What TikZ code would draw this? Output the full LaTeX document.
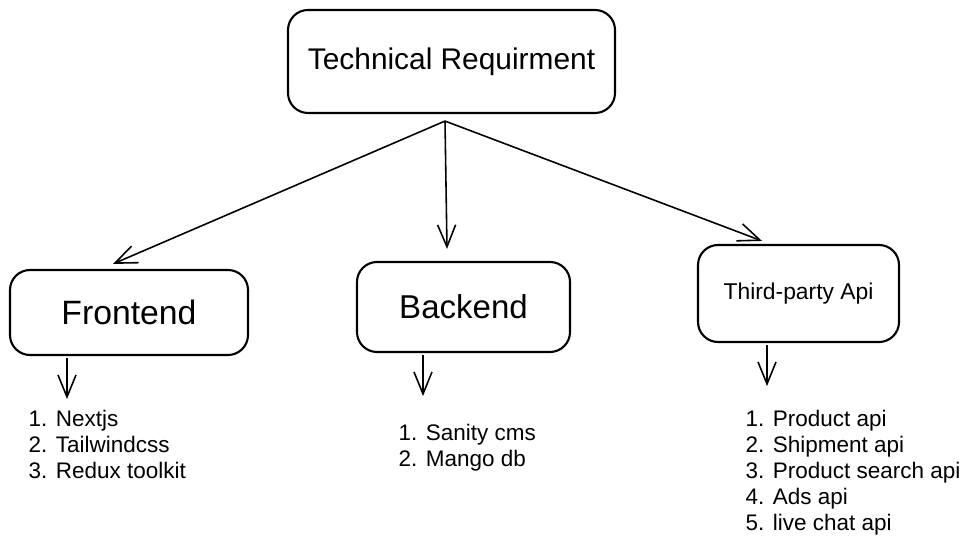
\documentclass[tikz,border=0pt]{standalone}
\usepackage{fontspec}
\setmainfont{Liberation Sans}
\usetikzlibrary{arrows.meta}
\begin{document}
\begin{tikzpicture}
    [%%%%%%%%%%%%%%%%%%%%%%%%%%%%%%
        box/.style={rectangle,draw=black,line width=0.6pt,rounded corners=0.2cm},
        arrow/.style={-{Straight Barb[length=2.2mm,width=1.8mm]},line width=0.45pt},
        list/.style={anchor=west,align=left,inner sep=0pt,font=\fontsize{6.4}{7.4}\selectfont},
    ]%%%%%%%%%%%%%%%%%%%%%%%%%%%%%%

\useasboundingbox (0,0) rectangle (9.65,5.46);

\node[box,minimum width=3.27cm,minimum height=1.03cm,font=\fontsize{8.5}{10}\selectfont] (top) at (4.515,4.845){Technical Requirment};

\node[box,minimum width=2.38cm,minimum height=0.85cm,font=\fontsize{9.6}{11}\selectfont] (front) at (1.29,2.335){Frontend};
\node[box,minimum width=2.13cm,minimum height=0.90cm,font=\fontsize{9.4}{11}\selectfont] (back) at (4.635,2.39){Backend};
\node[box,minimum width=2.01cm,minimum height=0.97cm,font=\fontsize{6.5}{8}\selectfont] (third) at (7.985,2.525){Third-party Api};

\coordinate (hub) at ([xshift=-0.065cm,yshift=-0.07cm]top.south);
\draw[arrow] (hub) -- ([xshift=-0.16cm,yshift=0.05cm]front.north);
\draw[arrow] (hub) -- ([xshift=-0.165cm,yshift=0.12cm]back.north);
\draw[arrow] (hub) -- ([xshift=-0.365cm,yshift=0.03cm]third.north);

\foreach \n/\dx in {front/-0.62,back/-0.405,third/-0.315}{
    \coordinate (\n-out) at ([xshift=\dx cm,yshift=-0.02cm]\n.south);
    \draw[arrow] (\n-out) -- ++(0,-0.41);
}

\node[list] (frontlist) at (0.28,1.02){1. Nextjs\\2. Tailwindcss\\3. Redux toolkit};
\node[list] (backlist) at (3.98,0.985){1. Sanity cms\\2. Mango db};
\node[list] (thirdlist) at (7.45,0.73){1. Product api\\2. Shipment api\\3. Product search api\\4. Ads api\\5. live chat api};
\end{tikzpicture}
\end{document}
